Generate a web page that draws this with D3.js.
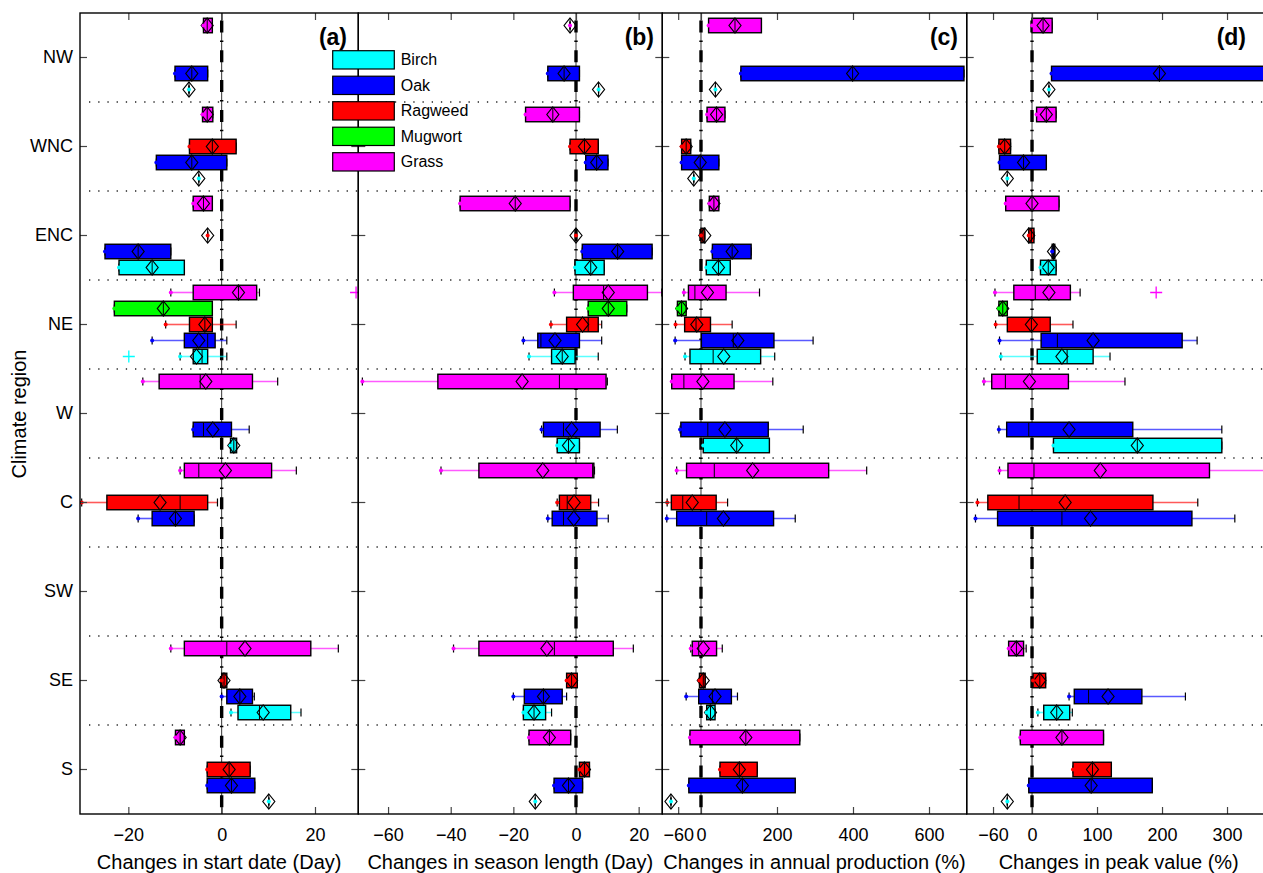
<!DOCTYPE html>
<html>
<head>
<meta charset="utf-8">
<script src="https://cdn.jsdelivr.net/npm/d3@7"></script>
<style>
  body { margin: 0; background: #fff; }
  text { font-family: Arial, "Liberation Sans", Helvetica, sans-serif; fill: #000; }
</style>
</head>
<body>
<svg id="chart"></svg>
<script>
const regions = ["NW", "WNC", "ENC", "NE", "W", "C", "SW", "SE", "S"];
const species = ["Grass", "Mugwort", "Ragweed", "Oak", "Birch"];
const legendOrder = ["Birch", "Oak", "Ragweed", "Mugwort", "Grass"];
const speciesColor = {Birch: "#00ffff", Oak: "#0000ff", Ragweed: "#ff0000", Mugwort: "#00ff00", Grass: "#ff00ff"};

// [region, species, low, q1, median, q3, high, mean, outliers]
const startDate = [
  ["NW", "Grass", -3.9, -3.9, -3.1, -2.0, -2.0, -3.1],
  ["NW", "Oak", -10, -10, -6.4, -3.0, -3.0, -6.4],
  ["NW", "Birch", -7, -7, -7, -7, -7, -7],
  ["WNC", "Grass", -4.1, -4.1, -3.1, -1.9, -1.9, -3.1],
  ["WNC", "Ragweed", -6.9, -6.9, -2.0, 3.1, 3.1, -2.0],
  ["WNC", "Oak", -14, -14, -6.4, 1.1, 1.1, -6.4],
  ["WNC", "Birch", -4.9, -4.9, -4.9, -4.9, -4.9, -4.9],
  ["ENC", "Grass", -6.1, -6.1, -3.9, -2.0, -2.0, -3.9],
  ["ENC", "Ragweed", -3, -3, -3, -3, -3, -3],
  ["ENC", "Oak", -25, -25, -17.9, -10.9, -10.9, -17.9],
  ["ENC", "Birch", -22, -22, -14.9, -8, -8, -14.9],
  ["NE", "Grass", -10.9, -6.1, 3.6, 7.5, 8.1, 3.6, [28.8]],
  ["NE", "Mugwort", -23, -23, -12.5, -2.0, -2.0, -12.5],
  ["NE", "Ragweed", -12, -6.9, -3.6, -2.0, 3.1, -3.6],
  ["NE", "Oak", -14.9, -8, -3.0, -1.4, 1.1, -4.9],
  ["NE", "Birch", -8.9, -6.1, -4.2, -3.0, 1.1, -5.4, [-19.9]],
  ["W", "Grass", -16.9, -13.4, -4.6, 6.6, 12, -3.4],
  ["W", "Oak", -6.1, -6.1, -3.9, 2.1, 5.9, -1.9],
  ["W", "Birch", 1.9, 1.9, 2.6, 3.2, 3.2, 2.6],
  ["C", "Grass", -8.9, -8, -4.9, 10.7, 16, 0.8],
  ["C", "Ragweed", -30, -24.6, -8.9, -3.0, -0.9, -13.2],
  ["C", "Oak", -17.9, -14.9, -9.9, -5.9, -5.9, -9.9],
  ["SE", "Grass", -10.9, -8, 1.1, 19.1, 25, 5],
  ["SE", "Ragweed", 0, 0, 0.5, 1.1, 1.1, 0.5],
  ["SE", "Oak", 0, 1.1, 3.9, 6.6, 7, 3.9],
  ["SE", "Birch", 2, 3.5, 8.1, 14.8, 17, 8.9],
  ["S", "Grass", -9.9, -9.9, -8.9, -8, -8, -8.9],
  ["S", "Ragweed", -3.1, -3.1, 1.6, 6.1, 6.1, 1.6],
  ["S", "Oak", -3.1, -3.1, 2.1, 7.1, 7.1, 2.1],
  ["S", "Birch", 10.1, 10.1, 10.1, 10.1, 10.1, 10.1]
];

const seasonLength = [
  ["NW", "Grass", -1.9, -1.9, -1.9, -1.9, -1.9, -1.9],
  ["NW", "Oak", -9, -9, -3.8, 1.1, 1.1, -3.8],
  ["NW", "Birch", 7.2, 7.2, 7.2, 7.2, 7.2, 7.2],
  ["WNC", "Grass", -16.1, -16.1, -7.4, 1.1, 1.1, -7.4],
  ["WNC", "Ragweed", -1.9, -1.9, 2.7, 7.1, 7.1, 2.7],
  ["WNC", "Oak", 3.1, 3.1, 6.6, 10.2, 10.2, 6.6],
  ["ENC", "Grass", -37, -37, -19.4, -1.9, -1.9, -19.4],
  ["ENC", "Ragweed", 0, 0, 0, 0, 0, 0],
  ["ENC", "Oak", 2, 2, 13.3, 24.3, 24.3, 13.3],
  ["ENC", "Birch", -0.3, -0.3, 4.7, 9, 9, 4.7],
  ["NE", "Grass", -6.9, -0.85, 8.8, 22.8, 27.4, 10.3],
  ["NE", "Mugwort", 3.9, 3.9, 10.3, 16.2, 16.2, 10.3],
  ["NE", "Ragweed", -8, -3, 3.9, 7.1, 8.2, 2.1],
  ["NE", "Oak", -16.8, -12.2, -11.2, 1.1, 8.2, -6.7],
  ["NE", "Birch", -15, -7.8, -4.4, -0.3, 7.1, -4.4],
  ["W", "Grass", -68.2, -44.1, -5.3, 9.6, 10, -17.2],
  ["W", "Oak", -11, -10.4, -4.0, 7.7, 13.2, -1.4],
  ["W", "Birch", -6, -6, -2.4, 1.1, 1.1, -2.4],
  ["C", "Grass", -43.1, -31, 5.3, 5.7, 5.9, -10.6],
  ["C", "Ragweed", -6, -5.3, -2.8, 4.7, 7.2, -0.6],
  ["C", "Oak", -9, -7.6, -4.0, 6.7, 10.3, -0.7],
  ["SE", "Grass", -39.1, -31, -6.9, 11.9, 18.3, -9.3],
  ["SE", "Ragweed", -3, -3, -1.4, 0.4, 0.4, -1.4],
  ["SE", "Oak", -20, -16.5, -10.4, -4.4, -3, -10.4],
  ["SE", "Birch", -16.8, -16.8, -13.4, -9.7, -7.8, -13.4],
  ["S", "Grass", -15, -15, -8.5, -1.7, -1.7, -8.5],
  ["S", "Ragweed", 1.1, 1.1, 2.7, 4.3, 4.3, 2.7],
  ["S", "Oak", -7, -7, -2.4, 2.1, 2.1, -2.4],
  ["S", "Birch", -13, -13, -13, -13, -13, -13]
];

const annualProduction = [
  ["NW", "Grass", 20, 20, 89.5, 159, 159, 89.5],
  ["NW", "Oak", 105, 105, 399, 692, 692, 399],
  ["NW", "Birch", 38, 38, 38, 38, 38, 38],
  ["WNC", "Grass", 16, 16, 41, 63, 63, 41],
  ["WNC", "Ragweed", -51, -51, -39, -27, -27, -39],
  ["WNC", "Oak", -51, -51, -2, 47, 47, -2],
  ["WNC", "Birch", -19, -19, -19, -19, -19, -19],
  ["ENC", "Grass", 22, 22, 34, 47, 47, 34],
  ["ENC", "Ragweed", 0, 0, 5, 10, 10, 10],
  ["ENC", "Oak", 30, 30, 82, 132, 132, 82],
  ["ENC", "Birch", 14, 14, 46, 77, 77, 46],
  ["NE", "Grass", -45, -33, -16, 66, 154, 17],
  ["NE", "Mugwort", -62, -62, -51, -39, -39, -51],
  ["NE", "Ragweed", -67, -43, -13, 25, 82, -11],
  ["NE", "Oak", -68, 1, 85, 192, 295, 97],
  ["NE", "Birch", -42, -29, 32, 157, 194, 60],
  ["W", "Grass", -77, -77, -45, 87, 189, 5],
  ["W", "Oak", -55, -53, 18, 177, 269, 63],
  ["W", "Birch", 6, 6, 94, 180, 180, 94],
  ["C", "Grass", -64, -38, 35, 336, 436, 136],
  ["C", "Ragweed", -89, -78, -48, 40, 70, -23],
  ["C", "Oak", -90, -64, 15, 191, 248, 59],
  ["SE", "Grass", -27, -23, -6, 41, 56, 6],
  ["SE", "Ragweed", -4, -4, 6, 11, 11, 6],
  ["SE", "Oak", -39, -6, 30, 80, 96, 37],
  ["SE", "Birch", 15, 15, 25, 37, 37, 25],
  ["S", "Grass", -29, -29, 118, 260, 260, 118],
  ["S", "Ragweed", 50, 50, 101, 148, 148, 101],
  ["S", "Oak", -32, -32, 109, 248, 248, 109],
  ["S", "Birch", -79, -79, -79, -79, -79, -79]
];

const peakValue = [
  ["NW", "Grass", 0, 0, 17, 31, 31, 17],
  ["NW", "Oak", 30, 30, 196, 362, 362, 196],
  ["NW", "Birch", 26, 26, 26, 26, 26, 26],
  ["WNC", "Grass", 7, 7, 22, 37, 37, 22],
  ["WNC", "Ragweed", -51, -51, -42, -33, -33, -42],
  ["WNC", "Oak", -50, -50, -13, 22, 22, -13],
  ["WNC", "Birch", -38, -38, -38, -38, -38, -38],
  ["ENC", "Grass", -40.5, -40.5, 0, 41.5, 41.5, 0],
  ["ENC", "Ragweed", -5, -5, -1, 3, 3, -5],
  ["ENC", "Oak", 31, 31, 33, 35, 35, 33],
  ["ENC", "Birch", 13, 13, 25, 37, 37, 25],
  ["NE", "Grass", -57, -28, 5, 59, 74, 26, [191]],
  ["NE", "Mugwort", -51, -51, -45, -38, -38, -45],
  ["NE", "Ragweed", -56, -38, -1, 28, 63, -1],
  ["NE", "Oak", -50, 14, 39, 231, 254, 94],
  ["NE", "Birch", -48, 8, 54, 94, 120, 46],
  ["W", "Grass", -74, -62, -41, 56, 143, -4],
  ["W", "Oak", -51, -39, -5, 155, 292, 57],
  ["W", "Birch", 33, 33, 162, 292, 292, 162],
  ["C", "Grass", -50, -37, 3, 273, 420, 105],
  ["C", "Ragweed", -84, -68, -20, 186, 255, 51],
  ["C", "Oak", -87, -53, 46, 246, 312, 90],
  ["SE", "Grass", -36, -36, -24, -13, -9, -24],
  ["SE", "Ragweed", 1.5, 1.5, 12, 21, 21, 12],
  ["SE", "Oak", 57, 65, 87, 169, 236, 117],
  ["SE", "Birch", 9, 18, 38, 58, 62, 38],
  ["S", "Grass", -18, -18, 46, 110, 110, 46],
  ["S", "Ragweed", 63, 63, 93, 122, 122, 93],
  ["S", "Oak", -5, -5, 91, 185, 185, 91],
  ["S", "Birch", -38, -38, -38, -38, -38, -38]
];

const ticksA = [-20, 0, 20];
const ticksB = [-60, -40, -20, 0, 20];
const ticksC = [-60, 0, 200, 400, 600];
const ticksD = [-60, 0, 100, 200, 300];

const panels = [
  {id: "a", rows: startDate, domain: [-30.36, 29.28], range: [80, 358.3], ticks: ticksA, title: "Changes in start date (Day)", tag: "(a)", tagX: 347},
  {id: "b", rows: seasonLength, domain: [-69.5, 27.55], range: [358.3, 662.3], ticks: ticksB, title: "Changes in season length (Day)", tag: "(b)", tagX: 654},
  {id: "c", rows: annualProduction, domain: [-101.8, 699.2], range: [662.3, 966.7], ticks: ticksC, title: "Changes in annual production (%)", tag: "(c)", tagX: 958},
  {id: "d", rows: peakValue, domain: [-100.5, 367.2], range: [966.7, 1270.7], ticks: ticksD, title: "Changes in peak value (%)", tag: "(d)", tagX: 1246}
];

const width = 1263, height = 873;
const plotTop = 13, plotBottom = 814;
const boxH = 14.5;

const svg = d3.select("#chart").attr("width", width).attr("height", height);

const y = d3.scaleBand().domain(regions).range([plotTop, plotBottom]);
const ySub = d3.scaleBand().domain(species).range([-40, 40]);
const cy = (r, s) => y(r) + y.bandwidth() / 2 + ySub(s) + ySub.bandwidth() / 2;

panels.forEach(p => {
  const x = d3.scaleLinear().domain(p.domain).range(p.range);
  const g = svg.append("g");

  svg.append("clipPath").attr("id", "clip-" + p.id)
    .append("rect")
    .attr("x", p.range[0]).attr("y", plotTop)
    .attr("width", p.range[1] - p.range[0]).attr("height", plotBottom - plotTop);

  const inner = g.append("g").attr("clip-path", `url(#clip-${p.id})`);

  // dotted separators between regions
  inner.selectAll("line.sep")
    .data(regions.slice(1))
    .join("line")
    .attr("class", "sep")
    .attr("x1", p.range[0] + 9).attr("x2", p.range[1])
    .attr("y1", d => y(d)).attr("y2", d => y(d))
    .attr("stroke", "#222").attr("stroke-width", 1.3)
    .attr("stroke-dasharray", "1.3,7.9");

  // zero line (dash-dot)
  inner.append("line")
    .attr("x1", x(0)).attr("x2", x(0))
    .attr("y1", plotTop).attr("y2", plotBottom)
    .attr("stroke", "#000").attr("stroke-width", 0.8);
  inner.append("line")
    .attr("x1", x(0)).attr("x2", x(0))
    .attr("y1", plotTop).attr("y2", plotBottom)
    .attr("stroke", "#000").attr("stroke-width", 3.4)
    .attr("stroke-dasharray", "12,7.9,1.5,8.4")
    .attr("stroke-dashoffset", 22.3);

  const boxes = inner.selectAll("g.box")
    .data(p.rows)
    .join("g")
    .attr("class", "box")
    .attr("transform", d => `translate(0,${cy(d[0], d[1])})`);

  // whiskers
  boxes.append("line")
    .attr("x1", d => x(d[2])).attr("x2", d => x(d[3]))
    .attr("stroke", d => speciesColor[d[1]]).attr("stroke-opacity", 0.65).attr("stroke-width", 1.6);
  boxes.append("line")
    .attr("x1", d => x(d[5])).attr("x2", d => x(d[6]))
    .attr("stroke", d => speciesColor[d[1]]).attr("stroke-opacity", 0.65).attr("stroke-width", 1.6);
  boxes.append("line")
    .attr("x1", d => x(d[2])).attr("x2", d => x(d[2]))
    .attr("y1", -4).attr("y2", 4)
    .attr("stroke", "#000").attr("stroke-width", 1.2);
  boxes.append("line")
    .attr("x1", d => x(d[6])).attr("x2", d => x(d[6]))
    .attr("y1", -4).attr("y2", 4)
    .attr("stroke", "#000").attr("stroke-width", 1.2);

  // box
  boxes.append("rect")
    .attr("x", d => x(d[3]))
    .attr("width", d => x(d[5]) - x(d[3]))
    .attr("y", -boxH / 2).attr("height", boxH)
    .attr("fill", d => speciesColor[d[1]])
    .attr("stroke", "#000").attr("stroke-width", 1.4);

  // median
  boxes.append("line")
    .attr("x1", d => x(d[4])).attr("x2", d => x(d[4]))
    .attr("y1", -boxH / 2).attr("y2", boxH / 2)
    .attr("stroke", "#000").attr("stroke-width", 1);

  // mean diamond
  boxes.append("path")
    .attr("d", d => {
      const cx = x(d[7]);
      return `M${cx},${-7.5}L${cx + 6},0L${cx},7.5L${cx - 6},0Z`;
    })
    .attr("fill", "none").attr("stroke", "#000").attr("stroke-width", 1.2);

  // low point
  boxes.append("circle")
    .attr("cx", d => x(d[2])).attr("r", 2)
    .attr("fill", d => speciesColor[d[1]]);

  // outliers
  boxes.selectAll("path.out")
    .data(d => (d[8] || []).map(v => ({v, s: d[1]})))
    .join("path")
    .attr("class", "out")
    .attr("d", o => `M${x(o.v) - 6},0H${x(o.v) + 6}M${x(o.v)},-6V6`)
    .attr("stroke", o => speciesColor[o.s]).attr("stroke-width", 1.3).attr("fill", "none");

  // axes
  const xb = g.append("g").attr("transform", `translate(0,${plotBottom})`)
    .call(d3.axisBottom(x).tickValues(p.ticks).tickSize(-7).tickPadding(14));
  xb.selectAll("text").attr("font-size", 18).attr("font-family", "Arial, 'Liberation Sans', sans-serif");
  const xt = g.append("g").attr("transform", `translate(0,${plotTop})`)
    .call(d3.axisTop(x).tickValues(p.ticks).tickSize(-7).tickFormat(""));
  const yl = g.append("g").attr("transform", `translate(${p.range[0]},0)`)
    .call(d3.axisLeft(y).tickSize(-7).tickPadding(7).tickFormat(p.id === "a" ? null : ""));
  yl.selectAll("text").attr("font-size", 18).attr("font-family", "Arial, 'Liberation Sans', sans-serif");
  const yr = g.append("g").attr("transform", `translate(${p.range[1]},0)`)
    .call(d3.axisRight(y).tickSize(-7).tickFormat(""));
  [xb, xt, yl, yr].forEach(a => {
    a.select(".domain").remove();
    a.selectAll(".tick line").attr("stroke", "#444").attr("stroke-width", 1.2);
  });

  // frame
  g.append("rect")
    .attr("x", p.range[0]).attr("y", plotTop)
    .attr("width", p.range[1] - p.range[0]).attr("height", plotBottom - plotTop)
    .attr("fill", "none").attr("stroke", "#000").attr("stroke-width", 1.4);

  g.append("text")
    .attr("x", p.tagX).attr("y", 45)
    .attr("text-anchor", "end")
    .attr("font-size", 23).attr("font-weight", "bold")
    .text(p.tag);

  g.append("text")
    .attr("x", (p.range[0] + p.range[1]) / 2).attr("y", 869)
    .attr("text-anchor", "middle")
    .attr("font-size", 20)
    .text(p.title);
});

svg.append("text")
  .attr("transform", "translate(26,414) rotate(-90)")
  .attr("text-anchor", "middle")
  .attr("font-size", 20)
  .text("Climate region");

// legend
const legendY = d3.scaleBand().domain(legendOrder).range([50.7, 50.7 + 25.5 * 5]);
const legend = svg.append("g");
legend.selectAll("rect")
  .data(legendOrder)
  .join("rect")
  .attr("x", 332.7).attr("y", d => legendY(d))
  .attr("width", 61.6).attr("height", 18.3)
  .attr("fill", d => speciesColor[d])
  .attr("stroke", "#000").attr("stroke-width", 1.2);
legend.selectAll("text")
  .data(legendOrder)
  .join("text")
  .attr("x", 400.7).attr("y", d => legendY(d) + 14.7)
  .attr("font-size", 16)
  .text(d => d);
</script>
</body>
</html>
